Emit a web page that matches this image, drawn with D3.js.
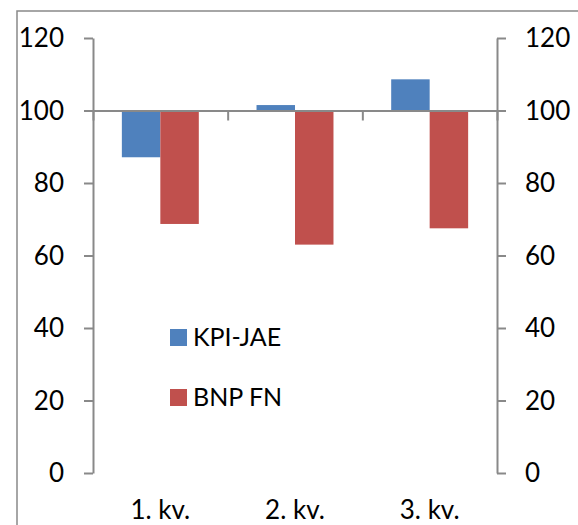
<!DOCTYPE html>
<html>
<head>
<meta charset="utf-8">
<script src="https://cdnjs.cloudflare.com/ajax/libs/d3/7.8.5/d3.min.js"></script>
<style>
  html, body { margin: 0; padding: 0; background: #fff; overflow: hidden; }
  text { font-family: Lato, "Open Sans", sans-serif; fill: #000; }
</style>
</head>
<body>
<div id="chart"></div>
<script>
// data (index, base 100)
var categories = ["1. kv.", "2. kv.", "3. kv."];
var seriesNames = ["KPI-JAE", "BNP FN"];
var kpiJae = [87.1, 101.5, 108.6];
var bnpFn = [68.7, 63.0, 67.5];
var yTicks = [0, 20, 40, 60, 80, 100, 120];
var colors = ["#4F81BD", "#C0504D"];

var width = 578, height = 525;
var axisColor = "#898989";

var svg = d3.select("#chart").append("svg")
    .attr("width", width)
    .attr("height", height);

// chart frame (runs off the right/bottom of the picture)
svg.append("rect")
    .attr("x", 17).attr("y", 11)
    .attr("width", 600).attr("height", 600)
    .attr("fill", "none")
    .attr("stroke", axisColor)
    .attr("stroke-width", 1.5);

var plotLeft = 93, plotRight = 497, plotTop = 38, plotBottom = 473;

var x = d3.scaleBand().domain(categories).range([plotLeft, plotRight]);
var xInner = d3.scaleBand().domain(seriesNames).range([0, x.bandwidth()]).paddingOuter(0.75);
var y = d3.scaleLinear().domain([0, 120]).range([plotBottom, plotTop]);

var rows = categories.map(function(c, i) {
    return { cat: c, values: [kpiJae[i], bnpFn[i]] };
});

// bars hang from 100
var groups = svg.selectAll("g.grp")
    .data(rows)
    .enter().append("g")
    .attr("class", "grp")
    .attr("transform", d => "translate(" + x(d.cat) + ",0)");

groups.selectAll("rect")
    .data(d => d.values.map((v, j) => ({ name: seriesNames[j], v: v, j: j })))
    .enter().append("rect")
    .attr("x", d => xInner(d.name))
    .attr("width", xInner.bandwidth())
    .attr("y", d => Math.min(y(d.v), y(100)))
    .attr("height", d => Math.abs(y(d.v) - y(100)))
    .attr("fill", d => colors[d.j]);

// value axes
function styleAxis(g) {
    g.select(".domain").attr("stroke", axisColor).attr("stroke-width", 2);
    g.selectAll(".tick line").attr("stroke", axisColor).attr("stroke-width", 2);
    g.selectAll(".tick text").style("font-size", "26px").attr("fill", "#000")
        .attr("dy", "0.33em");
}

svg.append("g")
    .attr("transform", "translate(" + plotLeft + ",0)")
    .call(d3.axisLeft(y).tickValues(yTicks).tickSize(9).tickSizeOuter(0).tickPadding(20))
    .call(styleAxis);

svg.append("g")
    .attr("transform", "translate(" + plotRight + ",0)")
    .call(d3.axisRight(y).tickValues(yTicks).tickSize(9).tickSizeOuter(0).tickPadding(19))
    .call(styleAxis);

// category axis crossing at 100, ticks at band edges
var xEdges = d3.scaleLinear().domain([0, categories.length]).range([plotLeft, plotRight]);
svg.append("g")
    .attr("transform", "translate(0," + y(100) + ")")
    .call(d3.axisBottom(xEdges).tickValues(d3.range(categories.length + 1)).tickSize(10).tickSizeOuter(0).tickFormat(""))
    .call(function(g) {
        g.select(".domain").attr("stroke", axisColor).attr("stroke-width", 2);
        g.selectAll(".tick line").attr("stroke", axisColor).attr("stroke-width", 2);
    });

// category labels at the bottom
svg.selectAll("text.cat")
    .data(categories)
    .enter().append("text")
    .attr("class", "cat")
    .attr("x", d => x(d) + x.bandwidth() / 2)
    .attr("y", 519)
    .attr("text-anchor", "middle")
    .style("font-size", "26px")
    .text(d => d);

// legend
var legend = svg.selectAll("g.leg")
    .data(seriesNames)
    .enter().append("g")
    .attr("class", "leg")
    .attr("transform", (d, i) => "translate(170," + (329 + i * 60) + ")");

legend.append("rect")
    .attr("width", 17).attr("height", 17)
    .attr("fill", (d, i) => colors[i]);

legend.append("text")
    .attr("x", 23)
    .attr("y", 17)
    .style("font-size", "25px")
    .text(d => d);
</script>
</body>
</html>
